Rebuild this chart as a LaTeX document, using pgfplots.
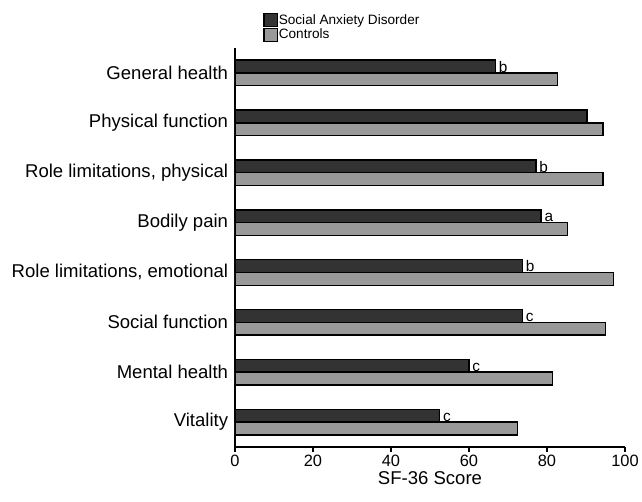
\documentclass[border=0pt]{standalone}
\usepackage{fontspec}
\setmainfont{Liberation Sans}
\usepackage{pgfplots}
\pgfplotsset{compat=1.18}
\definecolor{sad}{HTML}{333333}
\definecolor{ctl}{HTML}{999999}

\begin{document}
\begin{tikzpicture}
\begin{axis}[
  at={(0,0)}, anchor=south west,
  scale only axis, width=292.5pt, height=299.25pt,
  font=\fontsize{13.9}{15.5}\selectfont,
  /pgf/number format/assume math mode=true,
  xbar, bar width=9.6pt,
  xmin=0, xmax=100, xtick={0,20,...,100},
  ymin=-0.5, ymax=7.5, ytick={0,...,7},
  yticklabels={Vitality, Mental health, Social function, {Role limitations, emotional}, Bodily pain, {Role limitations, physical}, Physical function, General health},
  axis x line*=bottom, axis y line*=left,
  axis line style={-, line width=1.4pt},
  xtick align=outside, major tick length=3.5pt,
  x tick style={black, line width=1.2pt},
  y tick style={draw=none},
  yticklabel style={inner sep=1.5pt},
  xticklabel style={inner sep=2pt, font=\fontsize{12.3}{14}\selectfont},
  xlabel={SF-36 Score},
  xlabel style={inner sep=1pt, yshift=-1pt},
  legend cell align=left,
  legend style={draw=none, fill=none, at={(axis description cs:0.072,1.088)}, anchor=north west,
    font=\fontsize{10.2}{12}\selectfont, inner sep=0pt, row sep=0.5pt,
    nodes={inner sep=0.6pt}},
  legend image code/.code={\draw[#1, line width=1pt] (0pt,-4.8pt) rectangle (10pt,4.8pt);},
  point meta=explicit symbolic,
]
\addplot[fill=sad, draw=black, line width=1.1pt, bar shift=4.8pt,
  nodes near coords,
  nodes near coords style={anchor=base west, yshift=-4.3pt, inner sep=2pt, font=\fontsize{11.5}{13}\selectfont}]
  coordinates {
  (52.5,0) [c]
  (60.0,1) [c]
  (73.7,2) [c]
  (73.7,3) [b]
  (78.5,4) [a]
  (77.2,5) [b]
  (90.2,6) [{}]
  (66.8,7) [b]
  };
\addplot[fill=ctl, draw=black, line width=1.1pt, bar shift=-4.8pt]
  coordinates {
  (72.4,0) [{}]
  (81.4,1) [{}]
  (95.0,2) [{}]
  (97.1,3) [{}]
  (85.3,4) [{}]
  (94.3,5) [{}]
  (94.3,6) [{}]
  (82.7,7) [{}]
  };
\legend{Social Anxiety Disorder, Controls}
\end{axis}
\useasboundingbox (-176.25pt,-40.5pt) rectangle (305.25pt,335.25pt);
\end{tikzpicture}
\end{document}
